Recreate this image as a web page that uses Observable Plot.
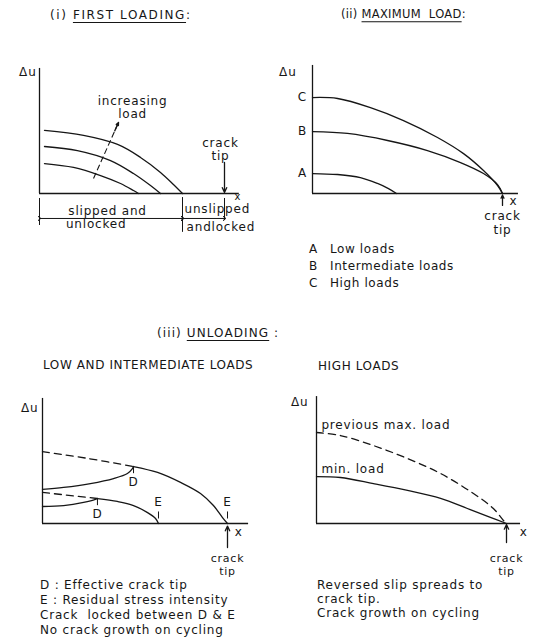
<!DOCTYPE html>
<html><head><meta charset="utf-8">
<script src="https://cdn.jsdelivr.net/npm/d3@7"></script>
<script src="https://cdn.jsdelivr.net/npm/@observablehq/plot@0.6"></script>
<style>
html,body{margin:0;padding:0;background:#fff;}
#fig{position:relative;width:540px;height:639px;font-family:"DejaVu Sans",sans-serif;font-size:12px;color:#161616;overflow:hidden;background:#fff}
.t{position:absolute;white-space:pre;line-height:1;transform:translateY(-50%);letter-spacing:0.8px}
.u{text-decoration:underline;text-underline-offset:3px;text-decoration-thickness:1px}
</style></head><body><div id="fig"></div>
<script>
// ---------- DATA (x: distance along crack, crack tip = 100; y: Δu, same units) ----------
// (i) First loading: three curves of increasing load
const firstLoadLow  = [[2.7,16.2],[18.4,14.1],[33,9.7],[43.8,5.4],[50.8,1.6],[53.5,0]];
const firstLoadMid  = [[2.7,25.4],[20.5,23.2],[38.4,17.8],[50.8,10.8],[60,4.3],[65.4,0]];
const firstLoadHigh = [[2.7,34.1],[23.8,31.4],[42.2,26.5],[54.6,19.5],[65.4,11.4],[72.4,4.9],[77.3,0]];
const slipBoundary = 77.3;            // end of slipped zone
const firstLoadArrow = [{x1:29.2,y1:8.1,x2:42.7,y2:38.4}];

// (ii) Maximum load: curves A, B, C
const maxLoadA = [[0,10.5],[13.2,10],[25.2,8.4],[34.2,5.3],[40,2.6],[44.2,0]];
const maxLoadB = [[0,32.6],[18.4,31.6],[39.5,27.9],[60.5,22.6],[77.9,16.3],[90,10.5],[97.4,4.7],[100,0]];
const maxLoadC = [[0,50.5],[13.2,50],[30.5,45.2],[47.9,38.4],[65.8,29.5],[79.5,21],[90,12.1],[97.4,4.2],[100,0]];
const maxLoadLetters = ["A","B","C"];
const maxLoadNames = ["Low loads","Intermediate loads","High loads"];

// (iii) Unloading, low and intermediate loads
const upperPrevMax   = [[0,38.9],[24.9,35.1],[49.2,30.8]];
const upperUnloaded  = [[0,18.4],[11.4,19.5],[25.9,21.6],[38.4,24.3],[45.9,27],[48.6,29.7],[49.2,30.8]];
const upperLocked    = [[49.2,30.8],[62.2,27.6],[74.6,22.2],[85.4,16.2],[92.4,9.7],[97.3,3.2],[100,0]];
const lowerPrevMax   = [[0,16.8],[29.7,13.5]];
const lowerUnloaded  = [[0,9.2],[11.4,9.7],[22.2,11.4],[28.6,13],[29.7,13.5]];
const lowerLocked    = [[29.7,13.5],[40.5,11.9],[49.2,9.7],[56.8,5.9],[61.1,2.7],[62.7,0]];
const pointsD = [{x:49.2,y:30.8},{x:29.7,y:13.5}];
const pointsE = [{x:62.7},{x:100}];

// (iii) Unloading, high loads
const highPrevMax = [[0,47.9],[12.6,46.3],[30,41],[47.9,34.2],[65.3,26.3],[82.6,15.8],[93.1,7.9],[98.4,1.6],[100,0]];
const highMinLoad = [[0,24.7],[12.6,24.2],[30,21],[47.9,17.4],[65.3,13.2],[79.4,7.9],[91.5,3.2],[100,0]];

// texts
const subTitles = ["LOW AND INTERMEDIATE LOADS", "HIGH LOADS"];
const notesLow = ["D : Effective crack tip","E : Residual stress intensity","Crack  locked between D & E","No crack growth on cycling"];
const notesHigh = ["Reversed slip spreads to","crack tip.","Crack growth on cycling"];

// ---------- DRAWING ----------
const fig = document.getElementById("fig");
const FONT = "'DejaVu Sans', sans-serif";
const SW = 1.3;

function html(text, left, top, extra="") {
  const d = document.createElement("div");
  d.className = "t";
  d.style.left = left + "px"; d.style.top = top + "px";
  if (extra) d.style.cssText += extra;
  d.innerHTML = text;
  fig.appendChild(d);
}
const esc = s => s.replace(/&/g,"&amp;");

function panel(box, k, origin, marks) {
  const [L,T,W,H] = box, [ox,oy] = origin;
  const svg = Plot.plot({
    width: W, height: H, margin: 0,
    x: {domain:[0,100], range:[ox-L, ox-L+100*k], axis:null},
    y: {domain:[0,100], range:[oy-T, oy-T-100*k], axis:null},
    style: {background:"transparent", overflow:"visible", fontFamily:FONT, fontSize:"12px", color:"#161616", letterSpacing:"0.8px"},
    marks
  });
  svg.style.position = "absolute";
  svg.style.left = L + "px"; svg.style.top = T + "px";
  fig.appendChild(svg);
}
const axes = (ytop, xend) => [
  Plot.ruleX([0], {y1:0, y2:ytop, stroke:"currentColor", strokeWidth:SW}),
  Plot.ruleY([0], {x1:0, x2:xend, stroke:"currentColor", strokeWidth:SW})
];
const curve = (data, dashed=false) => Plot.line(data, {x:d=>d[0], y:d=>d[1], curve:"catmull-rom", stroke:"currentColor", strokeWidth:SW, strokeDasharray: dashed ? "7,5" : null});
const label = (text, x, y, opts={}) => Plot.text([text], {x, y, text:d=>d, fill:"currentColor", fontSize:12, ...opts});
const tipArrow = (y1, y2) => Plot.arrow([0], {x1:100, x2:100, y1, y2, stroke:"currentColor", strokeWidth:SW, headLength:6, headAngle:50});

// Titles
html('(i) <span class="u">FIRST LOADING</span>:', 50, 15, "letter-spacing:1.6px");
html('(ii) <span class="u">MAXIMUM&nbsp; LOAD</span>:', 341, 15, "font-size:11.5px;letter-spacing:0.3px");
html('(iii) <span class="u">UNLOADING</span> :', 157, 333, "letter-spacing:1.1px");
html(subTitles[0], 43, 365, "letter-spacing:0.6px");
html(subTitles[1], 318, 366, "letter-spacing:0.6px");

// Panel (i)
panel([0,40,270,210], 1.85, [39,193], [
  ...axes(67.6, 108),
  curve(firstLoadLow), curve(firstLoadMid), curve(firstLoadHigh),
  Plot.link(firstLoadArrow, {x1:"x1",y1:"y1",x2:"x2",y2:"y2", stroke:"currentColor", strokeWidth:1.1, strokeDasharray:"6,3"}),
  Plot.arrow(firstLoadArrow, {x1:d=>d.x2-(d.x2-d.x1)*0.15, y1:d=>d.y2-(d.y2-d.y1)*0.15, x2:"x2", y2:"y2", stroke:"currentColor", strokeWidth:1.3, headLength:7, headAngle:45}),
  label("increasing\nload", 50.3, 46.8, {lineHeight:1.1}),
  label("crack\ntip", 97.8, 23.8, {lineHeight:1.05}),
  Plot.arrow([0], {x1:100, x2:100, y1:16.8, y2:0.6, stroke:"currentColor", strokeWidth:SW, headLength:6, headAngle:50}),
  label("x", 107.2, -1.9, {fontSize:10}),
  Plot.ruleX([0], {y1:-2.7, y2:-17.3, stroke:"currentColor", strokeWidth:1}),
  Plot.ruleX([slipBoundary], {y1:-2.2, y2:-21, stroke:"currentColor", strokeWidth:1}),
  Plot.ruleX([100], {y1:-2.7, y2:-14.6, stroke:"currentColor", strokeWidth:1}),
  Plot.link([[0,slipBoundary],[slipBoundary,100]], {x1:d=>d[0], x2:d=>d[1], y1:-13.5, y2:-13.5, stroke:"currentColor", strokeWidth:1, markerStart:"arrow", markerEnd:"arrow"}),
  label("slipped and", 15.6, -9.7, {textAnchor:"start", letterSpacing:"1px"}),
  label("unlocked", 14.3, -16.8, {textAnchor:"start", letterSpacing:"1px"}),
  label("unslipped", 78.4, -8.4, {textAnchor:"start", letterSpacing:"0.3px"}),
  label("andlocked", 79.5, -18.4, {textAnchor:"start", letterSpacing:"0.6px"}),
  label("Δu", -1.6, 65.4, {textAnchor:"end"})
]);

// Panel (ii)
panel([270,40,270,215], 1.9, [312,193], [
  ...axes(67.4, 108.4),
  curve(maxLoadA), curve(maxLoadB), curve(maxLoadC),
  Plot.text(maxLoadLetters, {x:-5.3, y:(d,i)=>[maxLoadA,maxLoadB,maxLoadC][i][0][1], text:d=>d, fill:"currentColor", fontSize:12}),
  label("Δu", -8.4, 63.7, {textAnchor:"end"}),
  label("x", 105.8, -4.2),
  tipArrow(-6.3, -0.8),
  label("crack\ntip", 100, -15.3, {lineHeight:1.15})
]);
maxLoadLetters.forEach((l,i) => {
  html(l, 309, 249 + i*17);
  html(maxLoadNames[i], 330, 249 + i*17, "letter-spacing:0.6px");
});

// Panel (iii) low & intermediate loads
panel([0,380,270,200], 1.85, [42,523], [
  ...axes(67.6, 111.4),
  curve(upperPrevMax, true), curve(upperUnloaded), curve(upperLocked),
  curve(lowerPrevMax, true), curve(lowerUnloaded), curve(lowerLocked),
  Plot.link(pointsD, {x1:"x", x2:"x", y1:"y", y2:d=>d.y-3.6, stroke:"currentColor", strokeWidth:1}),
  Plot.text(pointsD, {x:"x", y:d=>d.y-8.4, text:()=>"D", fill:"currentColor", fontSize:12}),
  Plot.link(pointsE, {x1:"x", x2:"x", y1:6.5, y2:2.7, stroke:"currentColor", strokeWidth:1}),
  Plot.text(pointsE, {x:"x", y:11.6, text:()=>"E", fill:"currentColor", fontSize:12}),
  label("Δu", -2.2, 62.2, {textAnchor:"end"}),
  label("x", 106, -4.9),
  tipArrow(-13, -1.4),
  label("crack\ntip", 100, -21.9, {fontSize:11, lineHeight:1.18})
]);
notesLow.forEach((s,i) => html(esc(s), 40, [585,600,615,630][i]));

// Panel (iii) high loads
panel([270,380,270,200], 1.9, [316,523], [
  ...axes(66.8, 107.4),
  curve(highPrevMax, true), curve(highMinLoad),
  label("previous max. load", 2.6, 51.6, {textAnchor:"start", letterSpacing:"0.4px"}),
  label("min. load", 2.6, 28.4, {textAnchor:"start", letterSpacing:"0.4px"}),
  label("Δu", -4.2, 63.7, {textAnchor:"end"}),
  label("x", 109, -4.7),
  tipArrow(-10, -0.5),
  label("crack\ntip", 100, -21.6, {fontSize:11, lineHeight:1.18})
]);
notesHigh.forEach((s,i) => html(esc(s), 317, [585,599,613][i]));
</script></body></html>
